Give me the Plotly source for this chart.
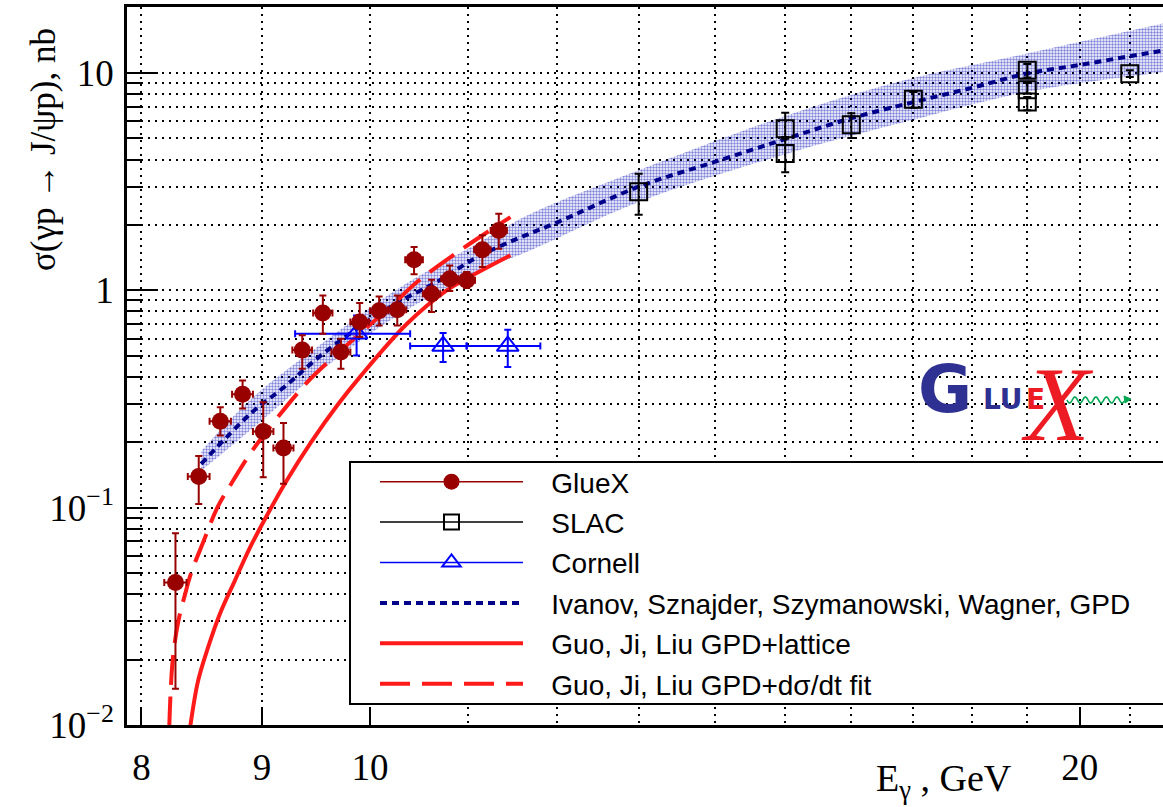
import numpy as np
import plotly.graph_objects as go

# ---------------- data ----------------
# GlueX
glx_E = [8.27, 8.46, 8.64, 8.83, 9.01, 9.19, 9.36, 9.55, 9.72, 9.90, 10.09, 10.27, 10.44, 10.62, 10.81, 10.99, 11.16, 11.34]
glx_sig = [0.0453, 0.139, 0.250, 0.333, 0.224, 0.188, 0.531, 0.786, 0.520, 0.715, 0.806, 0.815, 1.384, 0.966, 1.132, 1.112, 1.539, 1.888]
glx_hi = [0.0762, 0.173, 0.290, 0.385, 0.306, 0.245, 0.621, 0.948, 0.599, 0.874, 0.938, 0.948, 1.582, 1.120, 1.303, 1.214, 1.791, 2.254]
glx_lo = [0.0147, 0.104, 0.215, 0.286, 0.138, 0.129, 0.436, 0.632, 0.436, 0.610, 0.690, 0.690, 1.185, 0.795, 0.993, 1.025, 1.280, 1.555]
glx_dE = [0.09] * 18

# SLAC
slac_E = [13.0, 15.0, 15.0, 16.0, 17.0, 19.0, 19.0, 19.0, 21.0]
slac_sig = [2.84, 5.55, 4.26, 5.79, 7.57, 10.29, 8.39, 7.36, 9.94]
slac_hi = [3.44, 6.57, 4.99, 6.54, 8.18, 11.00, 9.00, 7.75, 10.30]
slac_lo = [2.23, 5.08, 3.50, 5.02, 6.93, 9.54, 8.05, 6.74, 9.60]

# Cornell
corn_E = [9.87, 10.74, 11.44]
corn_Elo = [9.295, 10.40, 10.99]
corn_Ehi = [10.40, 10.99, 11.81]
corn_sig = [0.632, 0.554, 0.554]
corn_hi = [0.767, 0.636, 0.659]
corn_lo = [0.502, 0.468, 0.444]

# Ivanov, Sznajder, Szymanowski, Wagner (GPD) central curve and band
iv_E = [8.48, 8.9, 9.2, 9.5, 9.85, 10.25, 10.7, 11.1, 11.55, 12.0, 13.0, 14.0, 15.0, 16.0, 17.0, 18.0, 19.0, 20.0, 21.0, 21.7]
iv_sig = [0.159, 0.271, 0.36, 0.487, 0.655, 0.866, 1.11, 1.42, 1.73, 2.05, 3.0, 3.9, 4.97, 6.2, 7.35, 8.55, 9.95, 10.9, 11.95, 12.7]
ivb_E = [8.48, 8.9, 9.5, 10.25, 11.1, 11.7, 13.0, 15.0, 16.8, 19.0, 21.7]
ivb_hi = [0.182, 0.315, 0.55, 1.00, 1.64, 2.25, 3.57, 6.35, 9.2, 12.3, 16.9]
ivb_lo = [0.148, 0.228, 0.415, 0.755, 1.21, 1.53, 2.55, 4.23, 5.9, 8.2, 10.1]

# Guo, Ji, Liu GPD+lattice (solid)
gs_E = [8.39, 8.455, 8.538, 8.638, 8.765, 8.895, 9.052, 9.219, 9.44, 9.695, 9.903, 10.365, 10.777, 11.0, 11.47]
gs_sig = [0.0098, 0.016, 0.0228, 0.0326, 0.0463, 0.0657, 0.0941, 0.1335, 0.200, 0.300, 0.400, 0.700, 1.000, 1.14, 1.45]

# Guo, Ji, Liu GPD+dsigma/dt fit (dashed)
gd_E = [8.22, 8.248, 8.293, 8.348, 8.397, 8.50, 8.615, 8.737, 8.895, 9.07, 9.40, 9.65, 9.90, 10.20, 10.47, 10.92, 11.47]
gd_sig = [0.0098, 0.020, 0.030, 0.040, 0.050, 0.070, 0.100, 0.130, 0.177, 0.235, 0.375, 0.493, 0.632, 0.838, 1.092, 1.527, 2.174]

# axis ticks
x_major = [8, 9, 10, 20]
x_major_text = ["8", "9", "10", "20"]
x_minor = [11, 12, 13, 14, 15, 16, 17, 18, 19, 21]
y_major = [0.01, 0.1, 1, 10]
y_major_text = ["10<sup>\u22122</sup>", "10<sup>\u22121</sup>", "1", "10"]
y_minor = [0.02, 0.03, 0.04, 0.05, 0.06, 0.07, 0.08, 0.09,
           0.2, 0.3, 0.4, 0.5, 0.6, 0.7, 0.8, 0.9,
           2, 3, 4, 5, 6, 7, 8, 9, 20]

# ---------------- layout geometry ----------------
W, H = 1163, 807
ML, MR, MT, MB = 127, 0, 7, 82
PW, PH = W - ML - MR, H - MT - MB


def fx(xp):
    return (xp - ML) / PW


def fy(yp):
    return (H - MB - yp) / PH


DARKRED = "#990000"
RED = "#ff1a1a"
NAVY = "#00008b"
BLUE = "#0000ff"
GRID = dict(showgrid=True, gridcolor="black", gridwidth=2, griddash="2px,5px")

fig = go.Figure()

# band
fig.add_trace(go.Scatter(x=ivb_E, y=ivb_lo, mode="lines",
                         line=dict(width=0, shape="spline", color="rgba(0,0,0,0)"),
                         showlegend=False, hoverinfo="skip"))
fig.add_trace(go.Scatter(x=ivb_E, y=ivb_hi, mode="lines",
                         line=dict(width=0, shape="spline", color="rgba(0,0,0,0)"),
                         fill="tonexty", fillcolor="rgba(0,0,0,0)",
                         fillpattern=dict(shape=".", fgcolor="#0008b4", bgcolor="rgba(255,255,255,0)",
                                          size=3, solidity=0.5),
                         showlegend=False, hoverinfo="skip"))

# theory curves
fig.add_trace(go.Scatter(x=iv_E, y=iv_sig, mode="lines",
                         line=dict(color=NAVY, width=4, dash="7px,5px", shape="spline"),
                         name="Ivanov, Sznajder, Szymanowski, Wagner, GPD",
                         legendrank=4, legendgroup="g4"))
fig.add_trace(go.Scatter(x=gs_E, y=gs_sig, mode="lines",
                         line=dict(color=RED, width=4, shape="spline"),
                         name="Guo, Ji, Liu GPD+lattice",
                         legendrank=5, legendgroup="g5"))
fig.add_trace(go.Scatter(x=gd_E, y=gd_sig, mode="lines",
                         line=dict(color=RED, width=4, dash="30px,12px", shape="spline"),
                         name="Guo, Ji, Liu GPD+d\u03c3/dt fit",
                         legendrank=6, legendgroup="g6"))


# data
def err(v, hi, lo):
    return [h - s for h, s in zip(hi, v)], [s - l for s, l in zip(v, lo)]


up, dn = err(slac_sig, slac_hi, slac_lo)
fig.add_trace(go.Scatter(x=slac_E, y=slac_sig, mode="markers",
                         marker=dict(symbol="square-open", size=17, color="black", line=dict(width=2)),
                         error_y=dict(type="data", array=up, arrayminus=dn, color="black", thickness=2, width=4),
                         showlegend=False))

up, dn = err(corn_sig, corn_hi, corn_lo)
cxp = [h - e for h, e in zip(corn_Ehi, corn_E)]
cxm = [e - l for e, l in zip(corn_E, corn_Elo)]
fig.add_trace(go.Scatter(x=corn_E, y=corn_sig, mode="markers",
                         marker=dict(symbol="triangle-up-open", size=19, color=BLUE, line=dict(width=2)),
                         error_y=dict(type="data", array=up, arrayminus=dn, color=BLUE, thickness=2, width=3.5),
                         error_x=dict(type="data", array=cxp, arrayminus=cxm, color=BLUE, thickness=2, width=3.5),
                         showlegend=False))

up, dn = err(glx_sig, glx_hi, glx_lo)
fig.add_trace(go.Scatter(x=glx_E, y=glx_sig, mode="markers",
                         marker=dict(symbol="circle", size=17, color=DARKRED),
                         error_y=dict(type="data", array=up, arrayminus=dn, color=DARKRED, thickness=2, width=3.5),
                         error_x=dict(type="data", array=glx_dE, color=DARKRED, thickness=2, width=3.5),
                         showlegend=False))

# legend entries for the data sets
fig.add_trace(go.Scatter(x=[None], y=[None], mode="lines+markers", name="GlueX",
                         line=dict(color=DARKRED, width=1.5),
                         marker=dict(symbol="circle", size=16, color=DARKRED),
                         legendrank=1, legendgroup="g1"))
fig.add_trace(go.Scatter(x=[None], y=[None], mode="lines+markers", name="SLAC",
                         line=dict(color="black", width=1.5),
                         marker=dict(symbol="square-open", size=15, color="black", line=dict(width=2)),
                         legendrank=2, legendgroup="g2"))
fig.add_trace(go.Scatter(x=[None], y=[None], mode="lines+markers", name="Cornell",
                         line=dict(color=BLUE, width=1.5),
                         marker=dict(symbol="triangle-up-open", size=17, color=BLUE, line=dict(width=2)),
                         legendrank=3, legendgroup="g3"))

# prefix legend labels so text starts where the reference has it
for tr in fig.data:
    if tr.showlegend is not False and tr.name:
        tr.name = "\u00a0\u00a0\u00a0" + tr.name

# ---------------- GlueX logo (decoration) ----------------
wx = np.linspace(1067, 1124, 120)
wy = 400 + 3.0 * np.sin((wx - 1067) / 10.5 * 2 * np.pi)
wave = "M " + " L ".join(f"{fx(a):.5f},{fy(b):.5f}" for a, b in zip(wx, wy))
arrow = (f"M {fx(1124):.5f},{fy(396):.5f} L {fx(1131):.5f},{fy(399):.5f} "
         f"L {fx(1125):.5f},{fy(403):.5f} Z")

shapes = [
    dict(type="rect", xref="paper", yref="paper", x0=fx(350), x1=fx(1180), y0=fy(704), y1=fy(462),
         line=dict(color="black", width=2), fillcolor="white", layer="above"),
    dict(type="path", xref="paper", yref="paper", path=wave, line=dict(color="#00a651", width=1.6)),
    dict(type="path", xref="paper", yref="paper", path=arrow, line=dict(color="#00a651", width=1),
         fillcolor="#00a651"),
]

annotations = [
    dict(text="\u03c3(\u03b3p \u2192 J/\u03c8p), nb", x=fx(43), y=fy(150), xref="paper", yref="paper",
         textangle=-90, showarrow=False, xanchor="center", yanchor="middle",
         font=dict(family="Liberation Serif", size=35, color="black")),
    dict(text="E<sub>\u03b3</sub> , GeV", x=fx(944), y=fy(781), xref="paper", yref="paper",
         showarrow=False, xanchor="center", yanchor="middle",
         font=dict(family="Liberation Serif", size=38, color="black")),
    dict(text="<b>G</b>", x=fx(945), y=fy(390), xref="paper", yref="paper", showarrow=False,
         xanchor="center", yanchor="middle", font=dict(family="DejaVu Sans", size=66, color="#2e3192")),
    dict(text="<b>LU</b>", x=fx(1003), y=fy(399), xref="paper", yref="paper", showarrow=False,
         xanchor="center", yanchor="middle", font=dict(family="DejaVu Sans", size=28, color="#2e3192")),
    dict(text="<b>E</b>", x=fx(1035), y=fy(399), xref="paper", yref="paper", showarrow=False,
         xanchor="center", yanchor="middle", font=dict(family="DejaVu Sans", size=28, color="#ed1c24")),
    dict(text="<i>X</i>", x=fx(1057), y=fy(404), xref="paper", yref="paper", showarrow=False,
         xanchor="center", yanchor="middle", font=dict(family="Liberation Serif", size=106, color="#ed1c24")),
]

fig.update_layout(
    width=W, height=H,
    margin=dict(l=ML, r=MR, t=MT, b=MB, autoexpand=False),
    paper_bgcolor="white", plot_bgcolor="white",
    xaxis=dict(type="log", range=[0.89695, 1.33631],
               tickmode="array", tickvals=x_major, ticktext=x_major_text,
               ticks="inside", ticklen=18, tickwidth=2, tickcolor="black",
               showline=True, linewidth=2.5, linecolor="black", mirror=True, zeroline=False,
               tickfont=dict(family="Liberation Serif", size=37, color="black"),
               ticklabelstandoff=8,
               minor=dict(tickmode="array", tickvals=x_minor, ticks="", **GRID),
               **GRID),
    yaxis=dict(type="log", range=[-2, 1.304],
               tickmode="array", tickvals=y_major, ticktext=y_major_text,
               ticks="inside", ticklen=31, tickwidth=2, tickcolor="black",
               showline=True, linewidth=2.5, linecolor="black", mirror=False, zeroline=False,
               tickfont=dict(family="Liberation Serif", size=37, color="black"),
               ticklabelstandoff=3,
               minor=dict(tickmode="array", tickvals=y_minor, ticks="inside", ticklen=15,
                          tickwidth=2, tickcolor="black", **GRID),
               **GRID),
    legend=dict(x=fx(375), y=fy(457), xanchor="left", yanchor="top",
                bgcolor="rgba(0,0,0,0)", borderwidth=0,
                font=dict(family="Liberation Sans", size=28, color="black"),
                itemwidth=143, traceorder="grouped", tracegroupgap=1, itemsizing="trace"),
    shapes=shapes,
    annotations=annotations,
    showlegend=True,
)

fig.write_html("out.html")
